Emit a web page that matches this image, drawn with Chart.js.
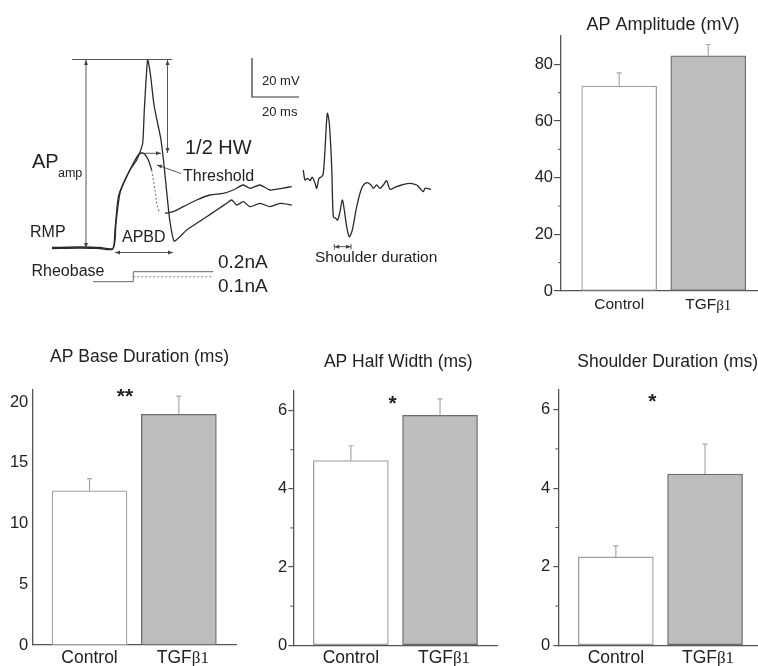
<!DOCTYPE html>
<html>
<head>
<meta charset="utf-8">
<script src="https://cdn.jsdelivr.net/npm/chart.js@4.4.1/dist/chart.umd.min.js"></script>
<style>
  html, body { margin: 0; padding: 0; background: #fff; }
  body { width: 758px; height: 666px; position: relative; overflow: hidden; }
  canvas { position: absolute; }
</style>
</head>
<body>
<canvas id="trace"></canvas>
<canvas id="amp"></canvas>
<canvas id="base"></canvas>
<canvas id="hw"></canvas>
<canvas id="shoulder"></canvas>
<script>
// ---- data ----
const groups = ['Control', 'TGFβ1'];

const ampMean = [72.3, 83.0];
const ampSem = [4.7, 4.0];
const baseMean = [12.7, 19.0];
const baseSem = [1.0, 1.5];
const hwMean = [4.72, 5.88];
const hwSem = [0.38, 0.42];
const shoulderMean = [2.25, 4.36];
const shoulderSem = [0.28, 0.76];

// example traces (diagram units)
const spikeTrace = [[52,248.5],[80,248],[100,248.5],[112.7,249],[115,230],[118.3,197],[123.3,183.3],[130,170],
  [136.7,160],[140,152],[142.7,143],[144.3,110],[146.7,70],[147.7,60],[150.5,75],[154,105],[158,125],[161,140],
  [164,165],[167,195],[170,222],[174,241],[178.3,238.3],[186.7,230],[196.7,223.3],[206.7,216.7],[216.7,210],
  [226.7,203.3],[231.7,200],[236.7,205],[243.3,201.7],[250,206.7],[260,203.3],[270,206.7],[280,203.3],[291.7,205]];
const humpTrace = [[52,247.5],[80,247],[100,247.5],[113.3,248],[116,223],[120,193],[126.7,176.7],[133.3,163.3],
  [138.3,155],[141.7,153],[145,154.5],[148.3,160],[151.7,170]];
const humpFall = [[151.7,170],[155,190],[157.3,206.7],[160,213.3]];
const humpTail = [[165,213.3],[173.3,211.7],[183.3,206.7],[196.7,200],[210,195],[223.3,193.3],[233.3,190],
  [243.3,185],[250,188.3],[260,185],[270,190],[281.7,188.3],[291.7,186.7]];
const shoulderTrace = [[303.3,170],[305,180],[307.7,178.3],[310,180.7],[312.3,177.3],[315,183.3],[316.7,188.3],
  [319,178.3],[321.7,176.7],[323.3,173.3],[325,150],[327.3,113.3],[329.3,123.3],[331.7,166.7],[333.3,216.7],
  [335.7,218.3],[337.7,220],[340,211.7],[342.3,200],[344.3,210],[346.7,226.7],[349.3,236.7],[352.3,230],
  [356.7,206.7],[361.7,188.3],[366.7,182.7],[371,185],[373.3,188.3],[376.7,185],[380,188.3],[383.3,185],
  [386.7,180.7],[390,189.3],[395,187.3],[401.7,185],[410,183.3],[416.7,185],[420,188.3],[423.3,191.7],
  [425,188.3],[431,189.3]];
const stepHigh = [[93,281.7],[133.3,281.7],[133.3,271.7],[213.3,271.7]];
const stepLow = [[133.3,276.7],[213.3,276.7]];
const scaleBar = [[252,58],[252,97],[299,97]];

// ---- style ----
const SANS = "'Liberation Sans', Arial, sans-serif";
const SERIF = "'Liberation Serif', 'Times New Roman', serif";
const AXIS = '#555';
const INK = '#222';
Chart.defaults.font.family = SANS;

function place(el, x, y, w, h) {
  el.width = w; el.height = h;
  el.style.left = x + 'px'; el.style.top = y + 'px';
  el.style.width = w + 'px'; el.style.height = h + 'px';
}

// ---- trace diagram ----
const traceEl = document.getElementById('trace');
place(traceEl, 0, 0, 460, 310);

function line(pts, extra) {
  return Object.assign({
    data: pts.map(p => ({ x: p[0], y: p[1] })),
    showLine: true, pointRadius: 0, borderColor: '#2a2a2a', borderWidth: 1.3, tension: 0.25, fill: false
  }, extra || {});
}

function arrowHead(ctx, x1, y1, x2, y2) {
  const a = Math.atan2(y2 - y1, x2 - x1), L = 5, W = 2;
  ctx.beginPath();
  ctx.moveTo(x2, y2);
  ctx.lineTo(x2 - L * Math.cos(a) + W * Math.sin(a), y2 - L * Math.sin(a) - W * Math.cos(a));
  ctx.lineTo(x2 - L * Math.cos(a) - W * Math.sin(a), y2 - L * Math.sin(a) + W * Math.cos(a));
  ctx.closePath();
  ctx.fill();
}

const traceNotes = {
  id: 'traceNotes',
  afterDraw(chart) {
    const ctx = chart.ctx, sx = chart.scales.x, sy = chart.scales.y;
    const X = v => sx.getPixelForValue(v), Y = v => sy.getPixelForValue(v);
    ctx.save();
    ctx.strokeStyle = '#444'; ctx.fillStyle = '#444'; ctx.lineWidth = 0.9;
    // peak reference line
    ctx.beginPath(); ctx.moveTo(X(72), Y(59.5)); ctx.lineTo(X(172), Y(59.5)); ctx.stroke();
    const arrows = [
      [86, 60, 86, 248, true], [167.5, 60, 167.5, 153, true], [140, 153.3, 161, 153.3, false],
      [181, 173.5, 157, 165, false], [115, 252.5, 173, 252.5, true], [334.3, 246.7, 351, 246.7, true]
    ];
    arrows.forEach(a => {
      const x1 = X(a[0]), y1 = Y(a[1]), x2 = X(a[2]), y2 = Y(a[3]);
      ctx.beginPath(); ctx.moveTo(x1, y1); ctx.lineTo(x2, y2); ctx.stroke();
      arrowHead(ctx, x1, y1, x2, y2);
      if (a[4]) arrowHead(ctx, x2, y2, x1, y1);
    });
    [334.3, 351].forEach(v => {
      ctx.beginPath(); ctx.moveTo(X(v), Y(244)); ctx.lineTo(X(v), Y(249.5)); ctx.stroke();
    });
    // labels
    ctx.fillStyle = INK; ctx.textBaseline = 'middle'; ctx.textAlign = 'left';
    const txt = (s, x, y, size) => { ctx.font = size + 'px ' + SANS; ctx.fillText(s, X(x), Y(y)); };
    txt('AP', 32, 162, 20);
    txt('amp', 58, 174, 12.5);
    txt('1/2 HW', 185, 148, 20);
    txt('Threshold', 183, 177, 16);
    txt('RMP', 30, 233, 16);
    txt('APBD', 122, 238, 16);
    txt('Rheobase', 31.5, 272, 16);
    txt('0.2nA', 218, 263, 19);
    txt('0.1nA', 218, 287, 19);
    txt('20 mV', 262, 81, 13);
    txt('20 ms', 262, 112, 13);
    txt('Shoulder duration', 315, 258, 15.5);
    ctx.restore();
  }
};

new Chart(traceEl, {
  type: 'scatter',
  data: {
    datasets: [
      line(spikeTrace),
      line(humpTrace),
      line(humpFall, { borderDash: [2, 2], borderColor: '#777', borderWidth: 1.1 }),
      line(humpTail),
      line(shoulderTrace, { tension: 0.3 }),
      line(stepHigh, { tension: 0, borderColor: '#666', borderWidth: 1 }),
      line(stepLow, { tension: 0, borderColor: '#888', borderWidth: 1, borderDash: [2, 2] }),
      line(scaleBar, { tension: 0, borderColor: '#333', borderWidth: 1.2 })
    ]
  },
  options: {
    responsive: false, animation: false,
    layout: { padding: 0 },
    plugins: { legend: { display: false }, tooltip: { enabled: false } },
    scales: {
      x: { type: 'linear', min: 0, max: 460, display: false },
      y: { type: 'linear', min: 0, max: 310, reverse: true, display: false }
    }
  },
  plugins: [traceNotes]
});

// ---- bar panels ----
function barPanel(id, cfg) {
  const el = document.getElementById(id);
  const [bx, by, bw, bh] = cfg.box;
  place(el, bx, by, bw, bh);
  const isMajor = v => Math.abs(v / cfg.major - Math.round(v / cfg.major)) < 1e-6;

  const decor = {
    id: 'decor_' + id,
    afterDraw(chart) {
      const ctx = chart.ctx, sx = chart.scales.x, sy = chart.scales.y, area = chart.chartArea;
      ctx.save();
      // error bars (upper)
      ctx.strokeStyle = '#a8a8a8'; ctx.lineWidth = 1.2;
      cfg.mean.forEach((m, i) => {
        const x = sx.getPixelForValue(i);
        const y0 = sy.getPixelForValue(m), y1 = sy.getPixelForValue(m + cfg.sem[i]);
        ctx.beginPath();
        ctx.moveTo(x, y0); ctx.lineTo(x, y1);
        ctx.moveTo(x - 2.5, y1); ctx.lineTo(x + 2.5, y1);
        ctx.stroke();
      });
      // minor ticks
      if (cfg.minor) {
        ctx.strokeStyle = AXIS; ctx.lineWidth = 1;
        for (let v = cfg.minor; v < cfg.max; v += cfg.minor) {
          if (isMajor(v)) continue;
          const y = sy.getPixelForValue(v);
          ctx.beginPath(); ctx.moveTo(area.left - 3, y); ctx.lineTo(area.left, y); ctx.stroke();
        }
      }
      ctx.fillStyle = INK; ctx.textBaseline = 'middle';
      // title
      ctx.textAlign = 'center';
      ctx.font = cfg.titleSize + 'px ' + SANS;
      ctx.fillText(cfg.title, cfg.titleAt[0] - bx, cfg.titleAt[1] - by);
      // group labels
      ctx.textAlign = 'left';
      const ly = cfg.labelY - by;
      groups.forEach((g, i) => {
        const cx = sx.getPixelForValue(i);
        const head = g.replace('β1', ''), greek = g.indexOf('β1') >= 0 ? 'β1' : '';
        ctx.font = cfg.labelSize + 'px ' + SANS;
        const w1 = ctx.measureText(head).width;
        ctx.font = (cfg.labelSize - 0.5) + 'px ' + SERIF;
        const w2 = greek ? ctx.measureText(greek).width : 0;
        let x = cx - (w1 + w2) / 2 + (greek ? cfg.labelShift : 0);
        ctx.font = cfg.labelSize + 'px ' + SANS;
        ctx.fillText(head, x, ly);
        if (greek) {
          ctx.font = (cfg.labelSize - 0.5) + 'px ' + SERIF;
          ctx.fillText(greek, x + w1, ly + 1);
        }
      });
      // significance
      if (cfg.star) {
        ctx.textAlign = 'center'; ctx.textBaseline = 'alphabetic';
        ctx.font = 'bold 21px ' + SANS;
        ctx.fillText(cfg.star, cfg.starAt[0] - bx, cfg.starAt[1] - by + 12);
      }
      ctx.restore();
    }
  };

  return new Chart(el, {
    type: 'bar',
    data: {
      datasets: [{
        data: cfg.mean.map((v, i) => ({ x: i, y: v })),
        backgroundColor: ['#ffffff', '#bdbdbd'],
        borderColor: ['#a0a0a0', '#6e6e6e'],
        borderWidth: 1.3,
        borderSkipped: false,
        barThickness: 75
      }]
    },
    options: {
      responsive: false, animation: false,
      layout: { padding: cfg.pad },
      plugins: { legend: { display: false }, tooltip: { enabled: false } },
      scales: {
        x: {
          type: 'linear', min: cfg.xRange[0], max: cfg.xRange[1], offset: false,
          grid: { display: false }, ticks: { display: false },
          border: { color: AXIS, width: 1.3 },
          afterFit: s => { s.height = 0; }
        },
        y: {
          type: 'linear', min: 0, max: cfg.max,
          ticks: {
            stepSize: cfg.minor || cfg.major, includeBounds: false, padding: cfg.tickPad,
            color: INK, font: { size: 16.5 },
            callback: v => (isMajor(v) ? v : '')
          },
          grid: {
            display: cfg.tickLen > 0, drawOnChartArea: false, tickLength: cfg.tickLen, lineWidth: 1.2,
            tickColor: c => (c.tick && isMajor(c.tick.value) ? AXIS : 'rgba(0,0,0,0)')
          },
          border: { color: AXIS, width: 1.3 },
          afterFit: s => { s.width = cfg.yWidth; }
        }
      }
    },
    plugins: [decor]
  });
}

barPanel('amp', {
  box: [505, 0, 253, 320], pad: { left: 12, top: 36, right: 1, bottom: 29 }, yWidth: 44,
  mean: ampMean, sem: ampSem, max: 90, major: 20, minor: 10, tickLen: 7, tickPad: 1,
  xRange: [-0.653, 1.547],
  title: 'AP Amplitude (mV)', titleAt: [663, 25], titleSize: 18,
  labelY: 305, labelSize: 15.5, labelShift: 0
});
barPanel('base', {
  box: [0, 330, 250, 336], pad: { left: 2.3, top: 60, right: 13.3, bottom: 21 }, yWidth: 30,
  mean: baseMean, sem: baseSem, max: 21, major: 5, minor: 0, tickLen: 0, tickPad: 4,
  xRange: [-0.641, 1.648],
  title: 'AP Base Duration (ms)', titleAt: [139.5, 357], titleSize: 17.5,
  labelY: 658, labelSize: 17.5, labelShift: 4,
  star: '**', starAt: [125, 391]
});
barPanel('hw', {
  box: [250, 330, 250, 336], pad: { left: 3.3, top: 61, right: 2.7, bottom: 20.7 }, yWidth: 40,
  mean: hwMean, sem: hwSem, max: 6.5, major: 2, minor: 1, tickLen: 5, tickPad: 1,
  xRange: [-0.645, 1.642],
  title: 'AP Half Width (ms)', titleAt: [398.3, 362], titleSize: 17.5,
  labelY: 658, labelSize: 17.5, labelShift: 4,
  star: '*', starAt: [392.7, 398]
});
barPanel('shoulder', {
  box: [505, 330, 253, 336], pad: { left: 13.3, top: 60, right: 0.5, bottom: 20.7 }, yWidth: 40,
  mean: shoulderMean, sem: shoulderSem, max: 6.5, major: 2, minor: 1, tickLen: 5, tickPad: 3,
  xRange: [-0.645, 1.588],
  title: 'Shoulder Duration (ms)', titleAt: [667.7, 362], titleSize: 17.5,
  labelY: 658, labelSize: 17.5, labelShift: 3,
  star: '*', starAt: [652.3, 396]
});
</script>
</body>
</html>
